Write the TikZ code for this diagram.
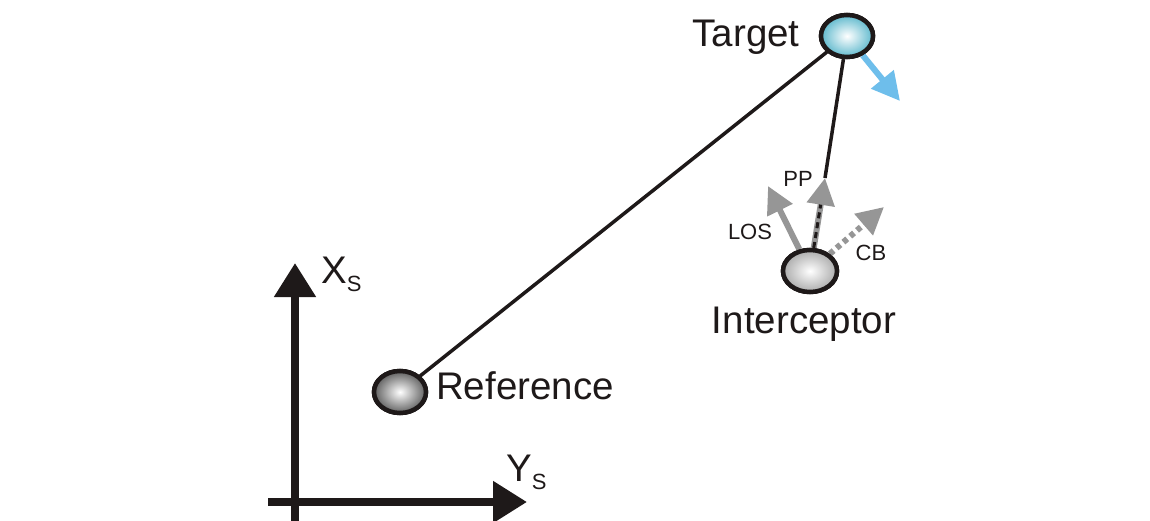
\documentclass[tikz,border=0pt]{standalone}
\usepackage{fontspec}
\setmainfont{Liberation Sans}
\usetikzlibrary{arrows.meta,shapes.geometric}
\definecolor{lineblk}{RGB}{30,25,25}
\definecolor{tcyan}{RGB}{95,185,205}
\definecolor{bluearr}{RGB}{110,190,235}
\definecolor{arrgray}{RGB}{150,150,150}
\definecolor{ballgray}{RGB}{150,150,150}
\definecolor{balldark}{RGB}{95,95,95}
\tikzset{
  ball/.style={ellipse, draw=lineblk, line width=4.5pt, inner sep=0pt, minimum width=52pt, minimum height=42pt},
  big/.style={font=\fontsize{38.5}{42}\selectfont, inner sep=0pt, text=lineblk},
  small/.style={font=\fontsize{22}{24}\selectfont, inner sep=0pt, text=lineblk},
  link/.style={draw=lineblk, line width=3.5pt},
  axis/.style={draw=lineblk, line width=8pt, -{Triangle[length=34pt,width=40pt]}},
  garrow/.style={draw=arrgray, line width=6pt, -{Triangle[length=27pt,width=27pt]}},
}
\begin{document}
\begin{tikzpicture}[x=1pt,y=-1pt]
\useasboundingbox (0,0) rectangle (1150,521);
% axes
\coordinate (xbot) at (295,521);
\coordinate (xtop) at (295,263);
\coordinate (yl) at (268,502);
\coordinate (yr) at (527,502);
\draw[axis] (xbot) -- (xtop);
\draw[axis] (yl) -- (yr);
\node[big, anchor=base west] (xs) at (321,283) {X\raisebox{-8pt}{\fontsize{22}{22}\selectfont S}};
\node[big, anchor=base west] (ys) at (506,481) {Y\raisebox{-8pt}{\fontsize{22}{22}\selectfont S}};
% nodes
\node[ball, inner color=white, outer color=tcyan] (target) at (847,36) {};
\node[ball, inner color=white, outer color=balldark] (reference) at (400,392) {};
\node[ball, inner color=white, outer color=ballgray!80, minimum width=54pt] (interceptor) at (810,271) {};
\coordinate (pptip) at (825,178);
\coordinate (lostip) at (768,186);
\coordinate (cbtip) at (884,207);
\coordinate (vtip) at (900,101);
% links
\draw[link] (target) -- (reference);
\draw[link] (target) -- (pptip);
% vectors
\draw[garrow] (interceptor) -- (lostip);
\draw[garrow] (interceptor) -- (pptip);
\draw[draw=lineblk, line width=3pt, dash pattern=on 6pt off 4pt, shorten >=27pt] (interceptor) -- (pptip);
\draw[garrow, dash pattern=on 5pt off 4pt] (interceptor) -- (cbtip);
\draw[draw=bluearr, line width=6pt, -{Triangle[length=28pt,width=28pt]}] (target) -- (vtip);
% redraw balls on top
\node[ball, inner color=white, outer color=tcyan] at (target) {};
\node[ball, inner color=white, outer color=balldark] at (reference) {};
\node[ball, inner color=white, outer color=ballgray!80, minimum width=54pt] at (interceptor) {};
% labels
\node[big, anchor=base] (tlabel) at (746,47) {Target};
\node[big, anchor=base] (ilabel) at (804,333) {Interceptor};
\node[big, anchor=base] (rlabel) at (525,399) {Reference};
\node[small, anchor=base] (pplabel) at (798,187) {PP};
\node[small, anchor=base] (loslabel) at (750,240) {LOS};
\node[small, anchor=base] (cblabel) at (871,260) {CB};
\end{tikzpicture}
\end{document}
